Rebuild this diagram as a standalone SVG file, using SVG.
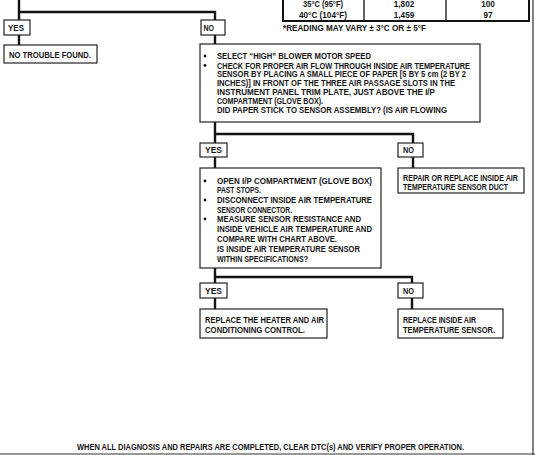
<svg xmlns="http://www.w3.org/2000/svg" width="535" height="455" viewBox="0 0 535 455">
<style>
text{font-family:"Liberation Sans",Arial,sans-serif;font-weight:bold;font-size:8.2px;fill:#151515}
.box{fill:#fff;stroke:#222;stroke-width:1.2}
.c{fill:none;stroke:#111;stroke-width:2.4}
.tb{fill:none;stroke:#111;stroke-width:2}
.td{fill:none;stroke:#111;stroke-width:1.3}
.m{text-anchor:middle}
</style>
<rect width="535" height="455" fill="#fff"/>
<g id="table">
<path class="tb" d="M283 0V21H529V0"/>
<path class="td" d="M364 0V21M446 0V21"/>
<text x="323" y="7" class="m" textLength="40" lengthAdjust="spacingAndGlyphs">35°C (95°F)</text>
<text x="404" y="7" class="m">1,802</text>
<text x="488" y="7" class="m">100</text>
<text x="323" y="17.5" class="m" textLength="48" lengthAdjust="spacingAndGlyphs">40°C (104°F)</text>
<text x="404" y="17.5" class="m">1,459</text>
<text x="488" y="17.5" class="m">97</text>
<text x="283" y="31" textLength="143" lengthAdjust="spacingAndGlyphs">*READING MAY VARY  ± 3°C OR  ± 5°F</text>
</g>
<g id="connectors">
<path class="c" d="M19 0V12H215V20M19 12V20M19 35V45M215 35V44"/>
<path class="c" d="M215 122V134H413V143M215 134V143M215 157V168M413 157V168"/>
<path class="c" d="M215 268V277H412V283M215 277V283M215 298V309M412 298V309"/>
</g>
<g id="yes1"><rect class="box" x="4" y="20" width="26" height="15"/><text x="8" y="30.8" textLength="16" lengthAdjust="spacingAndGlyphs">YES</text></g>
<g id="ntf"><rect class="box" x="4" y="45" width="93" height="18"/><text x="9" y="57.8" textLength="82" lengthAdjust="spacingAndGlyphs">NO TROUBLE FOUND.</text></g>
<g id="no1"><rect class="box" x="201" y="20" width="24" height="15"/><text x="203.5" y="30.8" textLength="10.5" lengthAdjust="spacingAndGlyphs">NO</text></g>
<g id="check">
<rect class="box" x="200" y="44" width="280" height="78"/>
<circle cx="205" cy="56" r="1.4" fill="#151515"/>
<circle cx="205" cy="65.5" r="1.4" fill="#151515"/>
<text x="217" y="59" textLength="154" lengthAdjust="spacingAndGlyphs">SELECT “HIGH” BLOWER MOTOR SPEED</text>
<text x="217" y="68.5" textLength="253" lengthAdjust="spacingAndGlyphs">CHECK FOR PROPER AIR FLOW THROUGH INSIDE AIR TEMPERATURE</text>
<text x="217" y="77.3" textLength="249" lengthAdjust="spacingAndGlyphs">SENSOR BY PLACING A SMALL PIECE OF PAPER [5 BY 5 cm (2 BY 2</text>
<text x="217" y="86.3" textLength="238" lengthAdjust="spacingAndGlyphs">INCHES)] IN FRONT OF THE THREE AIR PASSAGE SLOTS IN THE</text>
<text x="217" y="95.3" textLength="218" lengthAdjust="spacingAndGlyphs">INSTRUMENT PANEL TRIM PLATE, JUST ABOVE THE I/P</text>
<text x="217" y="104" textLength="106" lengthAdjust="spacingAndGlyphs">COMPARTMENT (GLOVE BOX).</text>
<text x="217" y="113.3" textLength="230" lengthAdjust="spacingAndGlyphs">DID PAPER STICK TO SENSOR ASSEMBLY?  (IS AIR FLOWING</text>
</g>
<g id="yes2"><rect class="box" x="200" y="143" width="27" height="14"/><text x="205" y="153.3" textLength="17" lengthAdjust="spacingAndGlyphs">YES</text></g>
<g id="no2"><rect class="box" x="398" y="143" width="25" height="14"/><text x="403" y="153.3" textLength="11" lengthAdjust="spacingAndGlyphs">NO</text></g>
<g id="measure">
<rect class="box" x="200" y="168" width="181" height="100"/>
<circle cx="205" cy="181" r="1.4" fill="#151515"/>
<circle cx="205" cy="200" r="1.4" fill="#151515"/>
<circle cx="205" cy="219" r="1.4" fill="#151515"/>
<text x="217" y="184" textLength="155" lengthAdjust="spacingAndGlyphs">OPEN I/P COMPARTMENT (GLOVE BOX)</text>
<text x="217" y="193.3" textLength="44" lengthAdjust="spacingAndGlyphs">PAST STOPS.</text>
<text x="217" y="203" textLength="155" lengthAdjust="spacingAndGlyphs">DISCONNECT INSIDE AIR TEMPERATURE</text>
<text x="217" y="212.8" textLength="75" lengthAdjust="spacingAndGlyphs">SENSOR CONNECTOR.</text>
<text x="217" y="222.3" textLength="144" lengthAdjust="spacingAndGlyphs">MEASURE SENSOR RESISTANCE AND</text>
<text x="217" y="232" textLength="155" lengthAdjust="spacingAndGlyphs">INSIDE VEHICLE AIR TEMPERATURE AND</text>
<text x="217" y="241.8" textLength="120" lengthAdjust="spacingAndGlyphs">COMPARE WITH CHART ABOVE.</text>
<text x="217" y="251.8" textLength="143" lengthAdjust="spacingAndGlyphs">IS INSIDE AIR TEMPERATURE SENSOR</text>
<text x="217" y="262.3" textLength="91" lengthAdjust="spacingAndGlyphs">WITHIN SPECIFICATIONS?</text>
</g>
<g id="duct">
<rect class="box" x="398" y="168" width="126" height="25"/>
<text x="403" y="181.3" textLength="115" lengthAdjust="spacingAndGlyphs">REPAIR OR REPLACE INSIDE AIR</text>
<text x="403" y="190.3" textLength="105" lengthAdjust="spacingAndGlyphs">TEMPERATURE SENSOR DUCT</text>
</g>
<g id="yes3"><rect class="box" x="200" y="283" width="27" height="15"/><text x="205" y="293.8" textLength="17" lengthAdjust="spacingAndGlyphs">YES</text></g>
<g id="no3"><rect class="box" x="398" y="283" width="25" height="15"/><text x="403" y="293.8" textLength="11" lengthAdjust="spacingAndGlyphs">NO</text></g>
<g id="control">
<rect class="box" x="200" y="309" width="127" height="29"/>
<text x="205" y="322.8" textLength="119" lengthAdjust="spacingAndGlyphs">REPLACE THE HEATER AND AIR</text>
<text x="205" y="333.3" textLength="100" lengthAdjust="spacingAndGlyphs">CONDITIONING CONTROL.</text>
</g>
<g id="sensor">
<rect class="box" x="398" y="309" width="105" height="29"/>
<text x="403" y="322.8" textLength="73" lengthAdjust="spacingAndGlyphs">REPLACE INSIDE AIR</text>
<text x="403" y="333.3" textLength="92" lengthAdjust="spacingAndGlyphs">TEMPERATURE SENSOR.</text>
</g>
<g id="footer">
<text x="77" y="449.5" textLength="387" lengthAdjust="spacingAndGlyphs">WHEN ALL DIAGNOSIS AND REPAIRS ARE COMPLETED, CLEAR DTC(s) AND VERIFY PROPER OPERATION.</text>
<path d="M533 0V455M0 454H535" fill="none" stroke="#333" stroke-width="1.2"/>
</g>
</svg>
